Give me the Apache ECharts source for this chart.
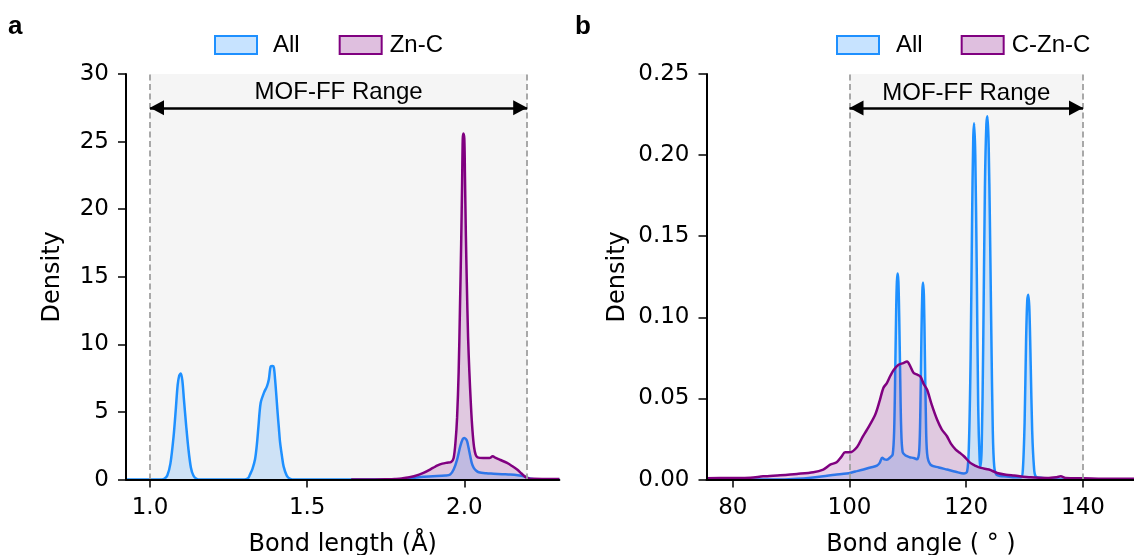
<!DOCTYPE html>
<html><head><meta charset="utf-8">
<script src="https://cdn.jsdelivr.net/npm/echarts@6/dist/echarts.min.js"></script>
<style>html,body{margin:0;padding:0;background:#fff}#c{width:1134px;height:555px}</style>
</head><body><div id="c"></div>
<script>
// ---- data ----
const lengthTicks = [1.0, 1.5, 2.0];
const angleTicks = [80, 100, 120, 140];
const lengthRange = [1.0, 2.2];
const angleRange = [100, 140];
const rangeLabel = 'MOF-FF Range';
const leftNames = ['All', 'Zn-C'];
const rightNames = ['All', 'C-Zn-C'];

const lengthAll = [[0.9236,0],[1.03,0],[1.045,0.05],[1.055,0.3],[1.065,1.2],[1.075,3.2],[1.082,5.2],[1.088,7.0],[1.093,7.7],[1.098,7.85],[1.103,7.3],[1.108,5.9],[1.115,4.0],[1.122,2.3],[1.13,0.9],[1.138,0.3],[1.148,0.05],[1.16,0],
[1.30,0],[1.312,0.1],[1.318,0.37],[1.326,0.8],[1.334,1.48],[1.34,2.6],[1.345,3.94],[1.352,5.67],[1.363,6.45],[1.372,6.9],[1.378,7.4],[1.384,8.37],[1.39,8.4],[1.394,8.3],[1.398,7.4],[1.402,6.2],[1.406,4.93],[1.41,3.8],[1.414,2.71],[1.42,1.7],[1.425,0.98],[1.435,0.3],[1.446,0.05],[1.46,0],
[1.8,0],[1.82,0.05],[1.84,0.12],[1.86,0.2],[1.9,0.25],[1.94,0.3],[1.955,0.37],[1.966,0.74],[1.977,1.48],[1.987,2.46],[1.995,3.0],[2.0,3.08],[2.005,3.0],[2.009,2.83],[2.014,2.3],[2.019,1.72],[2.024,1.2],[2.03,0.86],[2.038,0.65],[2.046,0.54],[2.07,0.47],[2.093,0.44],[2.12,0.4],[2.146,0.37],[2.17,0.32],[2.189,0.25],[2.2,0.15],[2.21,0.06],[2.225,0.01],[2.24,0],[2.3025,0]];

const lengthZnC = [[1.64,0],[1.7,0.01],[1.75,0.02],[1.78,0.05],[1.8,0.08],[1.82,0.15],[1.84,0.25],[1.87,0.5],[1.9,0.86],[1.915,1.05],[1.93,1.18],[1.945,1.25],[1.958,1.3],[1.966,1.6],[1.972,2.8],[1.977,4.6],[1.982,8],[1.986,12.5],[1.99,17.5],[1.993,22],[1.995,25.2],[1.997,25.6],[2.0,25.2],[2.002,22.5],[2.005,18],[2.008,14.5],[2.012,10.5],[2.016,8],[2.021,5.5],[2.026,3.6],[2.031,2.4],[2.036,1.85],[2.042,1.65],[2.06,1.6],[2.08,1.6],[2.09,1.72],[2.1,1.6],[2.115,1.45],[2.136,1.23],[2.152,1.0],[2.168,0.74],[2.182,0.45],[2.194,0.2],[2.205,0.09],[2.22,0.06],[2.26,0.05],[2.3025,0.04]];

const angleAll = [[75.5,0],[88,0],[91,0.0005],[93,0.001],[95.5,0.002],[97.5,0.003],[99.5,0.0037],[101,0.005],[102.4,0.0062],[103.6,0.0075],[104.7,0.0086],[105.2,0.0105],[105.6,0.0135],[106.0,0.0125],[106.4,0.0123],[107.0,0.0138],[107.4,0.0155],[107.65,0.03],[107.85,0.07],[108.0,0.105],[108.12,0.122],[108.25,0.127],[108.38,0.122],[108.52,0.1],[108.68,0.065],[108.85,0.032],[109.1,0.017],[109.6,0.0148],[110.3,0.0138],[111.0,0.0133],[111.6,0.0125],[111.95,0.018],[112.15,0.045],[112.33,0.09],[112.48,0.116],[112.6,0.1215],[112.75,0.113],[112.9,0.08],[113.08,0.04],[113.3,0.016],[113.87,0.0092],[115.3,0.0075],[116.7,0.0062],[118.2,0.0048],[119.6,0.0037],[120.15,0.005],[120.45,0.02],[120.75,0.075],[121.0,0.16],[121.2,0.21],[121.35,0.2196],[121.55,0.2],[121.8,0.13],[122.05,0.045],[122.3,0.012],[122.46,0.008],[122.65,0.02],[122.9,0.08],[123.2,0.18],[123.45,0.219],[123.65,0.224],[123.85,0.205],[124.05,0.16],[124.3,0.09],[124.55,0.03],[124.8,0.008],[125.2,0.003],[126.5,0.002],[128,0.0015],[129.4,0.0015],[129.7,0.006],[130.0,0.035],[130.25,0.085],[130.45,0.11],[130.63,0.114],[130.82,0.105],[131.05,0.07],[131.3,0.03],[131.6,0.008],[131.9,0.002],[133,0.001],[136,0],[149,0]];

const angleCZnC = [[75.5,0.0008],[79.5,0.001],[83,0.0012],[85.2,0.002],[88.1,0.0027],[91.0,0.0035],[93.8,0.0045],[95.5,0.0062],[96.7,0.0092],[97.8,0.0107],[98.6,0.014],[99.25,0.0168],[100.1,0.0168],[101.3,0.0201],[102.2,0.026],[103.0,0.0308],[104.4,0.040],[105.2,0.049],[105.8,0.0565],[106.4,0.0595],[107.0,0.064],[107.6,0.0677],[108.4,0.0708],[109.2,0.0718],[109.86,0.0728],[110.4,0.07],[111.0,0.0657],[111.6,0.0647],[112.15,0.0636],[112.7,0.059],[113.3,0.0554],[114.1,0.046],[115.0,0.037],[115.8,0.031],[116.7,0.0267],[117.4,0.022],[118.2,0.0185],[118.9,0.0165],[119.6,0.0144],[120.7,0.0103],[121.6,0.0085],[122.5,0.0072],[123.9,0.0062],[125.3,0.0041],[126.8,0.003],[128.2,0.0025],[131.06,0.0014],[133.9,0.001],[135.5,0.0015],[136.2,0.002],[137,0.001],[140,0.0008],[145,0.0005],[149,0.0006]];

// ---- styling ----
const BLUE = '#1e90ff', BLUE_F = 'rgba(30,144,255,0.25)';
const PURP = '#800080', PURP_F = 'rgba(128,0,128,0.25)';
const TICKF = 'DejaVu Sans';
const ARIAL = 'Liberation Sans, Arial, sans-serif';

function xAxisCfg(grid, min, max, ticks, dec, name) {
  return {
    type: 'value', gridIndex: grid, min: min, max: max, z: 10,
    name: name, nameLocation: 'middle', nameGap: 53,
    nameTextStyle: {fontSize: 24, fontFamily: TICKF, color: '#000'},
    axisLine: {onZero: false, lineStyle: {color: '#000', width: 2}},
    axisTick: {customValues: ticks, length: 8, lineStyle: {color: '#000', width: 1.5}},
    axisLabel: {customValues: ticks, formatter: v => v.toFixed(dec), fontSize: 23, fontFamily: TICKF, color: '#000', margin: 17},
    splitLine: {show: false}
  };
}
function yAxisCfg(grid, max, interval, dec, gap) {
  return {
    type: 'value', gridIndex: grid, min: 0, max: max, interval: interval, z: 10,
    name: 'Density', nameLocation: 'middle', nameGap: gap, nameRotate: 90,
    nameTextStyle: {fontSize: 24, fontFamily: TICKF, color: '#000'},
    axisLine: {show: true, onZero: false, lineStyle: {color: '#000', width: 2}},
    axisTick: {show: true, length: 8, lineStyle: {color: '#000', width: 1.5}},
    axisLabel: {formatter: v => v.toFixed(dec), fontSize: 23, fontFamily: TICKF, color: '#000', margin: 17},
    splitLine: {show: false}
  };
}
function bgSeries(idx, range) {
  return {
    type: 'line', data: [], xAxisIndex: idx, yAxisIndex: idx, z: 1, silent: true,
    markArea: {silent: true, itemStyle: {color: '#f5f5f5'}, data: [[{xAxis: range[0]}, {xAxis: range[1]}]]},
    markLine: {silent: true, symbol: 'none', label: {show: false},
      lineStyle: {type: [6, 3.5], color: '#a0a0a0', width: 1.8},
      data: [{xAxis: range[0]}, {xAxis: range[1]}]}
  };
}
function kde(idx, name, data, col, fill, z) {
  return {
    type: 'line', name: name, data: data, xAxisIndex: idx, yAxisIndex: idx, z: z,
    showSymbol: false, smooth: 0.3, silent: true,
    lineStyle: {color: col, width: 2.5}, itemStyle: {color: col},
    areaStyle: {color: fill, origin: 'start'}
  };
}
function arrowSeries(idx, range, y) {
  return {
    type: 'line', data: [], xAxisIndex: idx, yAxisIndex: idx, z: 5, silent: true,
    markLine: {silent: true, symbol: ['triangle', 'triangle'], symbolSize: [15, 14], symbolOffset: [[0, 7], [0, 7]],
      lineStyle: {type: 'solid', color: '#000', width: 2.5},
      label: {show: true, formatter: rangeLabel, position: 'insideMiddleTop', distance: 3,
        fontSize: 24, fontFamily: ARIAL, color: '#000'},
      data: [[{coord: [range[0], y]}, {coord: [range[1], y]}]]}
  };
}
function legendCfg(left, names, pad1, pad2, gap) {
  const ts = p => ({fontSize: 24, fontFamily: ARIAL, color: '#000', padding: [0, 0, 0, p]});
  return {
    left: left, top: 33, padding: 0, icon: 'rect', itemWidth: 42, itemHeight: 18, itemGap: gap,
    selectedMode: false,
    textStyle: ts(pad1),
    data: [
      {name: names[0], textStyle: ts(pad1), itemStyle: {color: BLUE_F, borderColor: BLUE, borderWidth: 2}},
      {name: names[1], textStyle: ts(pad2), itemStyle: {color: PURP_F, borderColor: PURP, borderWidth: 2}}
    ]
  };
}

const chart = echarts.init(document.getElementById('c'), null, {renderer: 'canvas'});
chart.setOption({
  animation: false,
  backgroundColor: '#fff',
  title: [
    {text: 'a', left: 3, top: 9, textStyle: {fontSize: 26, fontWeight: 'bold', fontFamily: ARIAL, color: '#000'}},
    {text: 'b', left: 570, top: 9, textStyle: {fontSize: 26, fontWeight: 'bold', fontFamily: ARIAL, color: '#000'}}
  ],
  legend: [legendCfg(214, leftNames, 11, 3, 39), legendCfg(836, rightNames, 12, 3, 38)],
  grid: [
    {left: 126, top: 74, width: 433.4, height: 405.6, outerBoundsMode: 'none'},
    {left: 706.5, top: 74, width: 429, height: 405.6, outerBoundsMode: 'none'}
  ],
  xAxis: [
    xAxisCfg(0, 0.9236, 2.3025, lengthTicks, 1, 'Bond length (Å)'),
    xAxisCfg(1, 75.5, 149, angleTicks, 0, 'Bond angle ( ° )')
  ],
  yAxis: [
    yAxisCfg(0, 30, 5, 0, 61),
    yAxisCfg(1, 0.25, 0.05, 2, 77)
  ],
  series: [
    bgSeries(0, lengthRange),
    kde(0, leftNames[0], lengthAll, BLUE, BLUE_F, 2),
    kde(0, leftNames[1], lengthZnC, PURP, PURP_F, 3),
    arrowSeries(0, lengthRange, 27.5),
    bgSeries(1, angleRange),
    kde(1, rightNames[0], angleAll, BLUE, BLUE_F, 2),
    kde(1, rightNames[1], angleCZnC, PURP, PURP_F, 3),
    arrowSeries(1, angleRange, 0.229)
  ]
});
</script></body></html>
